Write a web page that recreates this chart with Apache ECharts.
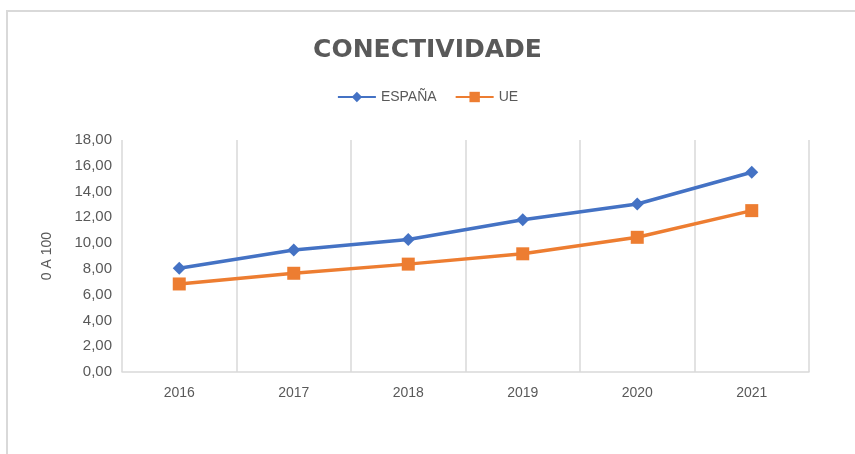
<!DOCTYPE html>
<html>
<head>
<meta charset="utf-8">
<script src="https://cdn.jsdelivr.net/npm/echarts@6/dist/echarts.min.js"></script>
<style>
  html, body { margin: 0; padding: 0; background: #fff; }
  #frame {
    position: absolute; left: 6px; top: 10px; right: 0; bottom: 0;
    border-top: 2px solid #d9d9d9; border-left: 2px solid #d9d9d9;
  }
  #chart { position: absolute; left: 0; top: 0; width: 855px; height: 454px; }
</style>
</head>
<body>
<div id="frame"></div>
<div id="chart"></div>
<script>
const years = ['2016', '2017', '2018', '2019', '2020', '2021'];
const espana = [8.05, 9.46, 10.28, 11.82, 13.03, 15.5];
const ue = [6.83, 7.66, 8.37, 9.17, 10.45, 12.52];
const yTicks = { min: 0, max: 18, interval: 2 };

const chart = echarts.init(document.getElementById('chart'));
chart.setOption({
  animation: false,
  textStyle: { fontFamily: 'Liberation Sans, Noto Sans, sans-serif' },
  title: {
    text: 'CONECTIVIDADE',
    left: 'center',
    top: 33,
    textStyle: { fontSize: 25, fontWeight: 'bold', color: '#595959', fontFamily: 'DejaVu Sans' }
  },
  legend: {
    top: 85,
    left: 'center',
    itemWidth: 38,
    itemHeight: 13,
    itemGap: 18,
    textStyle: { fontSize: 14, color: '#595959' },
    data: ['ESPAÑA', 'UE']
  },
  grid: { left: 122, right: 46, top: 140, bottom: 82 },
  xAxis: {
    type: 'category',
    data: years,
    boundaryGap: true,
    axisLine: { lineStyle: { color: '#d9d9d9', width: 1.5 } },
    axisTick: { show: false },
    splitLine: { show: true, lineStyle: { color: '#d9d9d9', width: 1.5 } },
    axisLabel: { color: '#595959', fontSize: 14, margin: 14 }
  },
  yAxis: {
    type: 'value',
    min: yTicks.min,
    max: yTicks.max,
    interval: yTicks.interval,
    name: '0 A 100',
    nameLocation: 'middle',
    nameGap: 68,
    nameTextStyle: { color: '#595959', fontSize: 14 },
    axisLine: { show: false },
    axisTick: { show: false },
    splitLine: { show: false },
    axisLabel: {
      color: '#595959',
      fontSize: 15,
      margin: 10,
      formatter: v => v.toFixed(2).replace('.', ',')
    }
  },
  series: [
    {
      name: 'ESPAÑA',
      type: 'line',
      data: espana,
      color: '#4472C4',
      symbol: 'diamond',
      symbolSize: 13,
      lineStyle: { width: 3.5 }
    },
    {
      name: 'UE',
      type: 'line',
      data: ue,
      color: '#ED7D31',
      symbol: 'rect',
      symbolSize: 13,
      lineStyle: { width: 3.5 }
    }
  ]
});
</script>
</body>
</html>
